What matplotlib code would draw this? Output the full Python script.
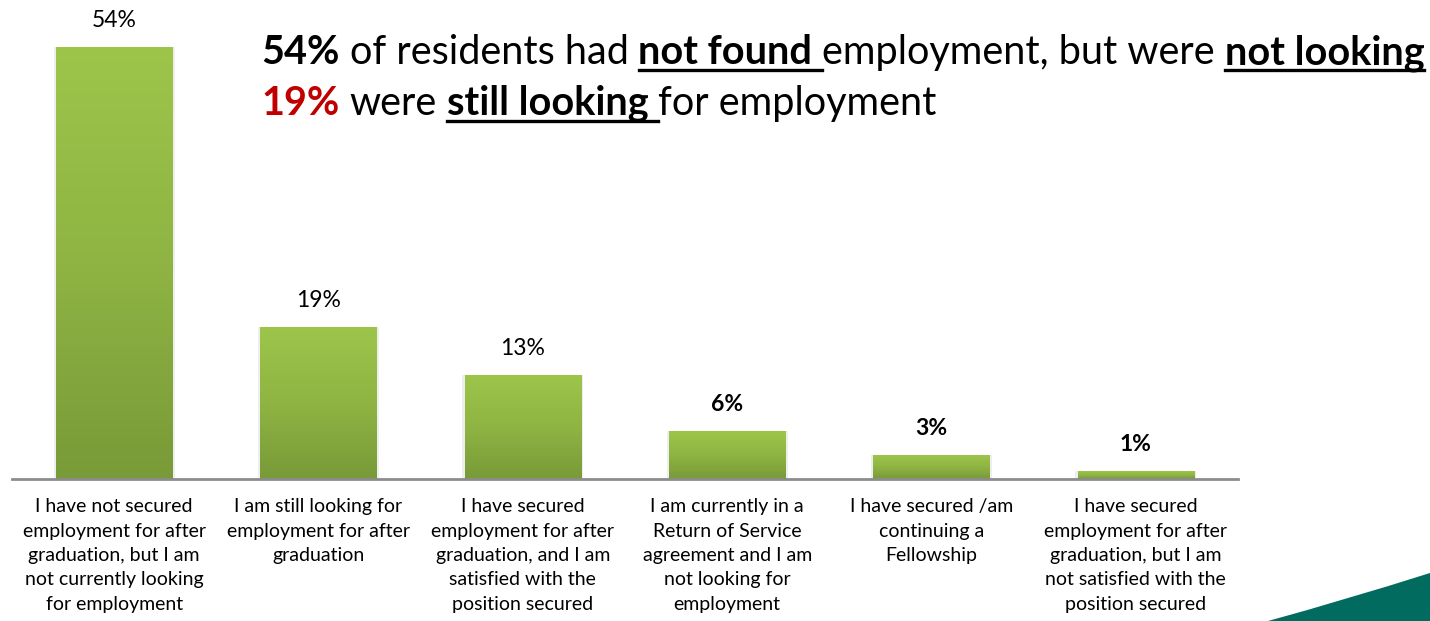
import numpy as np
import matplotlib
matplotlib.use('Agg')
import matplotlib.pyplot as plt
from matplotlib.path import Path
from matplotlib.patches import PathPatch
from matplotlib.lines import Line2D
from matplotlib.colors import LinearSegmentedColormap

plt.rcParams['font.family'] = ['Lato', 'DejaVu Sans']

# Survey responses: employment status after graduation
categories = [
    "I have not secured\nemployment for after\ngraduation, but I am\nnot currently looking\nfor employment",
    "I am still looking for\nemployment for after\ngraduation",
    "I have secured\nemployment for after\ngraduation, and I am\nsatisfied with the\nposition secured",
    "I am currently in a\nReturn of Service\nagreement and I am\nnot looking for\nemployment",
    "I have secured /am\ncontinuing a\nFellowship",
    "I have secured\nemployment for after\ngraduation, but I am\nnot satisfied with the\nposition secured",
]
percentages = [54, 19, 13, 6, 3, 1]
bold_labels = [False, False, False, True, True, True]

# headline pieces: (text, bold, colour, underlined)
headline_line1 = [("54%", True, 'black', False), (" of residents had ", False, 'black', False),
                  ("not found ", True, 'black', True), ("employment, but were ", False, 'black', False),
                  ("not looking", True, 'black', True)]
headline_line2 = [("19%", True, '#C00000', False), (" were ", False, 'black', False),
                  ("still looking ", True, 'black', True), ("for employment", False, 'black', False)]

W, H = 1430, 621
fig = plt.figure(figsize=(W / 100, H / 100), dpi=100)
ax = fig.add_axes([12 / W, (H - 479) / H, 1226 / W, 480 / H])

x = np.arange(len(percentages))
bars = ax.bar(x, percentages, width=0.57, color='none', edgecolor='none', zorder=2)

green = LinearSegmentedColormap.from_list('bar_green', ['#789A38', '#8FB443', '#9DC54A'])
grad = np.linspace(0, 1, 256).reshape(-1, 1)
for bar in bars:
    x0, w, h = bar.get_x(), bar.get_width(), bar.get_height()
    # soft shadow behind the bar
    ax.bar(x0 + w / 2, h, width=w * 1.04, color='#e3e3e3', alpha=0.6, zorder=1)
    im = ax.imshow(grad, cmap=green, origin='lower', aspect='auto',
                   extent=[x0, x0 + w, 0, h], zorder=2)
    im.set_clip_path(bar)

for bar, pct, bold in zip(bars, percentages, bold_labels):
    ax.annotate(f"{pct}%", (bar.get_x() + bar.get_width() / 2, bar.get_height()),
                xytext=(0, 19), textcoords='offset points', ha='center', va='center',
                fontsize=16.5, fontweight='bold' if bold else 'normal', color='black')

ax.set_xlim(-0.5, len(percentages) - 0.5)
ax.set_ylim(0, 60)
ax.set_xticks(x)
ax.set_xticklabels(categories, fontsize=14, linespacing=1.52, color='black')
ax.tick_params(axis='x', length=0, pad=14)
ax.set_yticks([])
for side in ['top', 'left', 'right']:
    ax.spines[side].set_visible(False)
ax.spines['bottom'].set_color('#8c8c8c')
ax.spines['bottom'].set_linewidth(2)
ax.patch.set_alpha(0)

# headline with mixed formatting, laid out piece by piece in pixel coordinates
renderer = fig.canvas.get_renderer()
head_size = 28.5


def text_width(s, weight):
    t = fig.text(0, 0, s, fontsize=head_size, fontweight=weight, transform=None)
    wdt = t.get_window_extent(renderer).width
    t.remove()
    return wdt


def draw_line(pieces, x_start, baseline):
    xp = x_start
    for s, bold, col, under in pieces:
        weight = 'bold' if bold else 'normal'
        core = s.strip(' ')
        lead = len(s) - len(s.lstrip(' '))
        trail = len(s) - len(s.rstrip(' '))
        space = text_width("x x", weight) - text_width("xx", weight)
        xp += lead * space
        t = fig.text(xp, baseline, core, fontsize=head_size, fontweight=weight,
                     color=col, va='baseline', ha='left', transform=None)
        wdt = t.get_window_extent(renderer).width
        end = xp + wdt + trail * space
        if under:
            fig.add_artist(Line2D([xp, end], [baseline - 6, baseline - 6], color='black',
                                  lw=2.4, transform=None))
        xp = end


draw_line(headline_line1, 261, H - 64)
draw_line(headline_line2, 261, H - 115)

# teal swoosh in the lower right corner
verts = [(1268, 0), (1345, 21), (1430, 48), (1430, 0), (1268, 0)]
codes = [Path.MOVETO, Path.CURVE3, Path.CURVE3, Path.LINETO, Path.CLOSEPOLY]
fig.add_artist(PathPatch(Path(verts, codes), facecolor='#006B5E', edgecolor='none',
                         transform=None))

fig.savefig('out.png', dpi=100)
